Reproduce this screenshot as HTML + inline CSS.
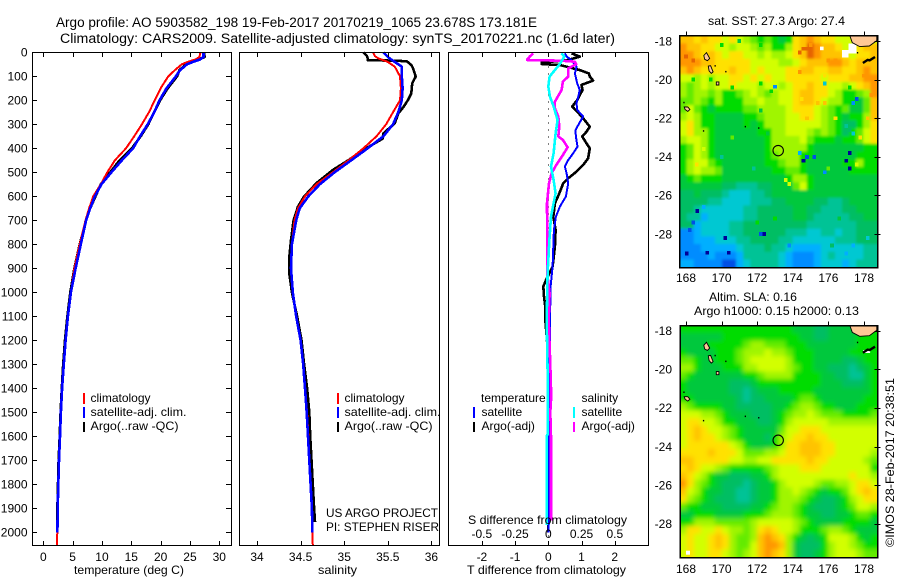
<!DOCTYPE html>
<html>
<head>
<meta charset="utf-8">
<title>Argo profile</title>
<style>
html,body{margin:0;padding:0;background:#fff;}
svg{display:block;}
text{font-family:"Liberation Sans",sans-serif;font-size:12px;fill:#000;}
.t{font-size:13.5px;}
</style>
</head>
<body>
<svg id="fig" xmlns="http://www.w3.org/2000/svg" width="900" height="580" viewBox="0 0 900 580">
<defs>
<clipPath id="clip1"><rect x="679.5" y="35.5" width="198" height="232"/></clipPath>
<clipPath id="clip2"><rect x="680" y="325.5" width="197.5" height="232"/></clipPath>
<filter id="smooth" x="-10%" y="-10%" width="120%" height="120%"><feGaussianBlur stdDeviation="2.4"/></filter>
<filter id="soft" x="-10%" y="-10%" width="120%" height="120%"><feGaussianBlur stdDeviation="1.4"/></filter>
</defs>
<text class="t" x="56" y="27" textLength="481" lengthAdjust="spacingAndGlyphs">Argo profile: AO 5903582_198 19-Feb-2017 20170219_1065 23.678S 173.181E</text>
<text class="t" x="60" y="43" textLength="555" lengthAdjust="spacingAndGlyphs">Climatology: CARS2009. Satellite-adjusted climatology: synTS_20170221.nc (1.6d later)</text>

<g id="p1"></g>
<g id="p2"></g>
<g id="p3"></g>

<text x="74" y="574" textLength="110" lengthAdjust="spacingAndGlyphs">temperature (deg C)</text>
<text x="318" y="574" textLength="39" lengthAdjust="spacingAndGlyphs">salinity</text>
<text x="467" y="574" textLength="159" lengthAdjust="spacingAndGlyphs">T difference from climatology</text>
<text x="468" y="524" textLength="159" lengthAdjust="spacingAndGlyphs">S difference from climatology</text>

<g>
<line x1="84" x2="84" y1="393" y2="404" stroke="#f00" stroke-width="2"/>
<line x1="84" x2="84" y1="407" y2="418" stroke="#00f" stroke-width="2"/>
<line x1="84" x2="84" y1="422" y2="432" stroke="#000" stroke-width="2"/>
<text x="90.5" y="402">climatology</text>
<text x="90.5" y="416" textLength="96" lengthAdjust="spacingAndGlyphs">satellite-adj. clim.</text>
<text x="90.5" y="430" textLength="88" lengthAdjust="spacingAndGlyphs">Argo(..raw -QC)</text>
</g>
<g>
<line x1="338" x2="338" y1="393" y2="404" stroke="#f00" stroke-width="2"/>
<line x1="338" x2="338" y1="407" y2="418" stroke="#00f" stroke-width="2"/>
<line x1="338" x2="338" y1="422" y2="432" stroke="#000" stroke-width="2"/>
<text x="344.5" y="402">climatology</text>
<text x="344.5" y="416" textLength="96" lengthAdjust="spacingAndGlyphs">satellite-adj. clim.</text>
<text x="344.5" y="430" textLength="88" lengthAdjust="spacingAndGlyphs">Argo(..raw -QC)</text>
</g>
<text x="326" y="517" textLength="112" lengthAdjust="spacingAndGlyphs">US ARGO PROJECT</text>
<text x="326" y="531" textLength="113" lengthAdjust="spacingAndGlyphs">PI: STEPHEN RISER</text>

<g>
<text x="481" y="402">temperature</text>
<text x="481.5" y="416">satellite</text>
<text x="481.5" y="430">Argo(-adj)</text>
<text x="581.5" y="402">salinity</text>
<text x="581.5" y="416">satellite</text>
<text x="581.5" y="430">Argo(-adj)</text>
<line x1="474" x2="474" y1="407" y2="418" stroke="#00f" stroke-width="2"/>
<line x1="474" x2="474" y1="422" y2="432" stroke="#000" stroke-width="2"/>
<line x1="574" x2="574" y1="407" y2="418" stroke="#0ff" stroke-width="2"/>
<line x1="574" x2="574" y1="422" y2="432" stroke="#f0f" stroke-width="2"/>
</g>

<text x="708" y="25" textLength="137" lengthAdjust="spacingAndGlyphs">sat. SST: 27.3 Argo: 27.4</text>
<text x="709" y="301" textLength="88" lengthAdjust="spacingAndGlyphs">Altim. SLA: 0.16</text>
<text x="694" y="315" textLength="165" lengthAdjust="spacingAndGlyphs">Argo h1000: 0.15 h2000: 0.13</text>
<g id="m1"></g>
<g id="m2"></g>
<text transform="translate(894,547) rotate(-90)" textLength="169" lengthAdjust="spacingAndGlyphs">©IMOS 28-Feb-2017 20:38:51</text>
</svg>

<script>
// ---- profile data ----
const depthTicks = [0,100,200,300,400,500,600,700,800,900,1000,1100,1200,1300,1400,1500,1600,1700,1800,1900,2000];
const tempTicks = [0,5,10,15,20,25,30];
const salTicks = [34,34.5,35,35.5,36];
const salTickLabels = ['34','34.5','35','35.5','36'];
const tDiffTicks = [-2,-1,0,1,2];
const sDiffTicks = [-0.5,-0.25,0,0.25,0.5];
const sDiffTickLabels = ['-0.5','-0.25','0','0.25','0.5'];

const tempDepths = [0,20,30,40,50,75,100,150,200,250,300,350,400,450,500,550,600,650,700,800,900,1000,1100,1200,1300,1400,1500,1600,1700,1800,1900,2000,2054];
const tempClim = [26.8,26.6,25.9,24.6,23.6,22.4,21.3,20,19,18,16.8,15.5,14.1,12.2,10.9,9.8,8.5,7.8,7.2,6.2,5.3,4.7,4.2,3.8,3.5,3.2,3.0,2.85,2.67,2.55,2.45,2.38,2.33];
const tempSat = [27.3,27.3,26.7,25.5,24.5,23.3,22.6,21,19.8,18.9,17.8,16.5,15.3,13.4,11.6,9.9,8.8,8,7.3,6.4,5.5,4.7,4.2,3.8,3.5,3.2,3,2.85,2.67,2.55,2.45,2.4];
const tempArgo = [27.4,27.5,26.4,25,24.3,23.2,22.8,21.2,19.9,18.9,17.9,16.6,15.1,13,11.4,9.8,8.9,8,7.3,6.2,5.3,4.6,4.1,3.7,3.4,3.15,2.95,2.8,2.6,2.5,2.4,2.4];

const salDepths = [0,15,25,40,60,100,150,200,250,300,350,400,450,500,550,600,650,700,800,900,1000,1100,1200,1300,1400,1500,1600,1700,1800,1900,2000,2054];
const salClim = [35.33,35.35,35.39,35.5,35.58,35.64,35.65,35.64,35.56,35.48,35.37,35.22,35.05,34.87,34.68,34.55,34.47,34.43,34.4,34.39,34.41,34.45,34.5,34.53,34.55,34.575,34.59,34.6,34.615,34.625,34.635,34.64];
const salSat = [35.45,35.49,35.52,35.58,35.66,35.66,35.67,35.66,35.62,35.56,35.45,35.27,35.08,34.89,34.72,34.59,34.49,34.45,34.4,34.39,34.41,34.45,34.5,34.53,34.55,34.57,34.585,34.6,34.615,34.63,34.635];
const salArgoDepths = [0,15,25,33,35,38,53,67,101,129,171,199,228,254,296,338,360,379,407,449,490,546,601,643,699,783,853,921,1000,1100,1200,1300,1400,1500,1600,1700,1800,1900,1957];
const salArgo = [35.22,35.26,35.27,35.27,35.6,35.72,35.77,35.79,35.82,35.78,35.77,35.73,35.68,35.62,35.58,35.45,35.44,35.35,35.22,35.05,34.87,34.68,34.54,34.47,34.42,34.39,34.37,34.37,34.4,34.46,34.51,34.54,34.575,34.6,34.61,34.625,34.64,34.655,34.665];

const dtSatDepths = [4,18,32,60,88,129,157,185,212,240,268,296,324,351,393,421,449,476,504,546,601,643,685,740,810,893,976,1115,1300,1500,1800,1950,2000];
const dtSat = [0.5,0.55,0.7,0.85,0.8,0.87,0.95,0.9,0.85,0.87,1.05,0.93,0.82,0.83,0.88,0.75,0.6,0.5,0.55,0.6,0.53,0.35,0.23,0.17,0.15,0.13,0.07,0.05,0.04,0.03,0.02,0.02,0];
const dtArgoDepths = [4,18,32,43,49,53,60,74,88,101,118,136,157,178,199,226,247,275,310,331,351,379,400,442,469,497,525,546,588,629,685,740,810,893,949,976,1018,1060,1115,1200,1300,2000];
const dtArgo = [0.7,0.95,0.6,-0.2,-0.2,0.35,0.55,0.95,1.22,1.25,1.35,1,1.03,0.95,0.87,0.72,0.87,1.05,1.25,1.15,1.02,1.15,1.25,1.2,1.05,0.85,0.6,0.45,0.33,0.2,0.15,0.22,0.2,0.13,-0.07,-0.15,-0.13,-0.09,-0.09,-0.04,0,0];
const dsArgoDepths = [4,18,29,32,35,39,49,67,101,122,157,206,233,268,310,351,365,396,428,469,504,546,629,782,921,1004,1115,1300,1400,1450,1500,1600,1950];
const dsArgo = [-0.113,-0.14,-0.158,-0.158,0.1,0.2,0.21,0.15,0.15,0.11,0.1,0.05,0.05,0.075,0.083,0.075,0.11,0.145,0.11,0.06,0.025,0.005,-0.01,-0.008,-0.008,0.01,0.003,0.015,0.02,0.02,0.015,0.02,0.02];
const dsSatDepths = [4,18,46,74,101,143,185,226,282,338,421,476,532,588,629,685,782,921,1115,1400,1590,1600,1970];
const dsSat = [0.1,0.12,0.09,0.05,0.01,0,0.013,0.04,0.07,0.055,0.04,0.02,0.04,0.055,0.04,0.02,0.008,-0.005,-0.012,-0.003,-0.003,-0.0125,-0.0125];

// ---- map data: one hex digit per cell (colour class), 28 columns x 30 rows, north to south ----
const mapLonTicks = [168,170,172,174,176,178];
const mapLatTicks = [18,20,22,24,26,28];
const colourClasses = ['#000096','#0050e6','#008cff','#00afff','#00c8d2','#00c396','#00be64','#00c83c','#00dc00','#64eb00','#a0f500','#d2ff00','#ffe100','#ffc300','#ff9600','#e66400'];
const sstRows = [
"ddcdccbcba989878cdedccbbbbbb",
"eddccbbabba9a88acdfeddcbbcdd",
"eedcdcbccbbabaabcdfedddcbccd",
"eeeddcccccbbbbaabcdddeedcddd",
"dedccccdccbcbbbccddccddccded",
"bbababbccbcbcbbcccccbcccddee",
"a9ababbcbbbabbabccdccbbabcde",
"a9aa9a889aba9abbcddccba889ae",
"99a98a888aabaabbcddcbaa8879d",
"9b987888899aaaabcccba989779d",
"aba887777889aaabbccba98788ad",
"bca887777878aaabbbbba98668ac",
"bcaa877777788aabbba9a98689bc",
"abba877777778aaaab98887889bc",
"89ba877777778aaaaa8777777788",
"89ba8777777789aaa88777777888",
"8abb98777777889aa87777788a88",
"8abaa977777778899877777788888",
"7898887777777778aa8777777777",
"77777766555667779b8777777777",
"6676665444556777777777777777",
"6666554444555667777665567777",
"6654444445566666776655566777",
"6553444445566666776555556677",
"6634444556666666665555555666",
"2234444556666665554455455666",
"2233344455666655444444555666",
"2223333345556554333344444455",
"2222322235555543222345444455",
"3322221134555543222344434555"
];
const slaRows = [
"8888888888888888777667777888",
"7777778888888888877667777888",
"7777888889aa9998887777777888",
"877778889aaabaa9888777778888",
"998778889abbbbba888777766788",
"aa8777888aabbbba988776665678",
"987777777889aaaa888877665578",
"8777777666788888888877766678",
"8777777665677788888777777778",
"8877777765667777899877777788",
"a9888877666667789aa988777888",
"bbbaa98777666789aaba99988889",
"bccbba887776678abbbbbaaaaaaa",
"bcdcbba98777779bbcccbbbbbbbb",
"bcdccba9877768abccdccbbbbbbb",
"bccccccba87778accdddccbbbbbb",
"ccccdcccb999aabccdddccbbbbba",
"ddcccccbbaabbcccccdccbbbbba9",
"cdcbba9888889abbbcccbbbbbbb8",
"dcba877666778abbbbbbbbbbcbba",
"eca98766656778abbbba99aabccb",
"dba87766556778aaba987889bcdc",
"ca987666556778aaa9876678abcc",
"98877766667789aa987666789bba",
"7788877778889aaa987766778998",
"88aaa99999abbbbba98777788887",
"accbbcbaa9acdcbba8889aa98777",
"bcbbcdca99adedca87678bbba878",
"bcbbcdca99bdeeda76668abba988",
"bcbbccba9abdedca76678abbba99"
];
const sstSpeckLons = [173,168.64,168.4,168.04,169.2,170.4,170.2,172.4,172.2,174.6,174.8,175.2,177.2,177,177.2,177.6,177.4,175.8,174.4,170,171.8,
174.6,174.8,174.4,176,176.4,175,168.4,168.2,168,174.4,175.8,178,
170,171,172.2,168.4,169.4,170.6,172.8,175.8,177.2,
169,168.6,170.6,174.8,175.4,175.8,176.4,174.5,178.2,177.8,178.4,173.6,173.8,175,176,177.6,
172.2,172.6,177,177.2,177.4,172.2,
169,168.2,172,173,176.6,176.2,177,178.2,177.4,173.8];
const sstSpeckLats = [20.37,26.8,27.4,29,28.97,28.97,28.2,28,28,24.2,24,24,23.8,24.2,24.6,21,21.2,24.8,23.8,24,24.6,
18.4,18.4,18.6,19,19,18.2,19,19,18.8,19.6,19.8,19.8,
18.2,18,18.2,20,20,20.4,20.6,20.2,20.4,
23.6,24.4,23,22,21.2,21.2,22,21,22,23,20.8,25.2,25.4,23.2,24.6,24.4,
21.6,22.8,22.4,22.6,22.8,20.2,
26.6,27.8,27.4,27.2,27.2,28.6,29,28.2,28.6,28.6];
const sstSpeckClass = [2,0,1,0,0,0,0,0,1,0,1,1,0,0,0,1,2,2,3,5,5,
15,15,15,14,14,14,15,14,15,14,12,14,
8,7,8,8,8,8,8,4,8,
11,12,9,13,13,13,12,12,13,12,14,11,11,9,9,11,
7,7,5,6,4,8,
3,1,8,8,7,6,3,4,3,2];
const landLons = [[177.2,177.34,177.76,178.3,178.72,178.72],[169,169.15,169.33,169.2,169.05],[169.25,169.38,169.52,169.42,169.3],[169.7,169.85,169.85,169.7],[167.9,168.1,168.22,168.1,167.95]];
const landLats = [[17.72,18.09,18.29,18.26,17.98,17.72],[18.75,18.6,18.9,19.02,18.95],[19.3,19.28,19.6,19.68,19.55],[20.12,20.12,20.28,20.28],[21.42,21.42,21.55,21.65,21.55]];
const reefLons = [177.94,178.2,178.32,178.62];
const reefLats = [19.14,18.98,19.0,18.83];
const dotLons = [170.2,169.6,171.3,172.05,168.95,177.6,167.85];
const dotLats = [19.55,19.25,22.4,22.47,22.62,18.57,21.15];
const argoLon = 173.181;
const argoLat = 23.678;
const sstMaskLons = [177.12,177.59,177.59,177.12,177.12,176.75,176.75,177.12];
const sstMaskLats = [18.12,18.12,18.64,18.64,18.85,18.85,18.47,18.47];

// ---- axis functions ----
const NS = 'http://www.w3.org/2000/svg';
const yDepth = d => 52.3 + 0.24 * d;
const xTemp = t => 43.3 + 5.867 * t;
const xSal = s => 257 + 87.2 * (s - 34);
const xDT = v => 548.3 + 33.2 * v;
const xDS = v => 548.3 + 133 * v;
const lonMin = 167.64, lonMax = 178.75, latMin = 17.72, latMax = 29.72;
const xLon = lon => 686 + 17.8 * (lon - 168);
const yLat1 = lat => 41 + 19.3 * (lat - 18);
const yLat2 = lat => 330.7 + 19.3 * (lat - 18);

function mk(tag, attrs, parent) {
  const el = document.createElementNS(NS, tag);
  for (const k in attrs) el.setAttribute(k, attrs[k]);
  parent.appendChild(el);
  return el;
}
function seriesLine(parent, name, depths, vals, xf, color, width) {
  const n = Math.min(depths.length, vals.length);
  const pts = [];
  for (let i = 0; i < n; i++) pts.push(xf(vals[i]).toFixed(1) + ',' + yDepth(depths[i]).toFixed(1));
  const el = mk('polyline', {points: pts.join(' '), fill: 'none', stroke: color, 'stroke-width': width, 'shape-rendering': 'crispEdges', 'stroke-linejoin': 'round'}, parent);
  
  
  return el;
}
function tick(parent, x1, y1, x2, y2) {
  const el = mk('line', {x1: x1, y1: y1, x2: x2, y2: y2, stroke: '#000', 'stroke-width': 1, 'shape-rendering': 'crispEdges'}, parent);
  
  
}
function label(parent, x, y, str, anchor) {
  const el = mk('text', {x: x, y: y, 'text-anchor': anchor}, parent);
  el.textContent = str;
  
  
}
function frame(parent, x, y, w, h, sw) {
  const el = mk('rect', {x: x, y: y, width: w, height: h, fill: 'none', stroke: '#000', 'stroke-width': sw, 'shape-rendering': 'crispEdges'}, parent);
  
  
}

// ---- panel 1: temperature ----
const p1 = document.getElementById('p1');
seriesLine(p1, 'argo-temperature-line', tempDepths, tempArgo, xTemp, '#000', 2.6);
seriesLine(p1, 'climatology-temperature-line', tempDepths, tempClim, xTemp, '#f00', 2);
seriesLine(p1, 'satellite-temperature-line', tempDepths, tempSat, xTemp, '#00f', 2.6);
frame(p1, 32.5, 52.5, 199, 493, 1);
depthTicks.forEach(d => {
  const y = Math.round(yDepth(d)) + 0.5;
  tick(p1, 32.5, y, 37, y);
  tick(p1, 231.5, y, 226, y);
  label(p1, 27.5, yDepth(d) + 4.3, String(d), 'end');
});
tempTicks.forEach(t => {
  const x = Math.round(xTemp(t)) + 0.5;
  tick(p1, x, 52.5, x, 57);
  tick(p1, x, 545.5, x, 541);
  label(p1, xTemp(t), 561, String(t), 'middle');
});

// ---- panel 2: salinity ----
const p2 = document.getElementById('p2');
seriesLine(p2, 'argo-salinity-line', salArgoDepths, salArgo, xSal, '#000', 2.6);
seriesLine(p2, 'climatology-salinity-line', salDepths, salClim, xSal, '#f00', 2);
seriesLine(p2, 'satellite-salinity-line', salDepths, salSat, xSal, '#00f', 2.6);
frame(p2, 239.5, 52.5, 200, 493, 1);
salTicks.forEach((s, i) => {
  const x = Math.round(xSal(s)) + 0.5;
  tick(p2, x, 52.5, x, 57);
  tick(p2, x, 545.5, x, 541);
  label(p2, xSal(s), 561, salTickLabels[i], 'middle');
});

// ---- panel 3: differences ----
const p3 = document.getElementById('p3');
const zero = mk('line', {x1: 548.5, x2: 548.5, y1: 52.5, y2: 545, stroke: '#000', 'stroke-width': 1, 'stroke-dasharray': '1 6', 'shape-rendering': 'crispEdges'}, p3);


seriesLine(p3, 'argo-temperature-difference-line', dtArgoDepths, dtArgo, xDT, '#000', 2.6);
seriesLine(p3, 'satellite-temperature-difference-line', dtSatDepths, dtSat, xDT, '#00f', 2);
seriesLine(p3, 'argo-salinity-difference-line', dsArgoDepths, dsArgo, xDS, '#f0f', 2.6);
seriesLine(p3, 'satellite-salinity-difference-line', dsSatDepths, dsSat, xDS, '#0ff', 2.6);
frame(p3, 448.5, 52.5, 200, 493, 1);
tDiffTicks.forEach(v => {
  const x = Math.round(xDT(v)) + 0.5;
  tick(p3, x, 52.5, x, 57);
  tick(p3, x, 545.5, x, 541);
  label(p3, xDT(v), 561, String(v), 'middle');
});
sDiffTicks.forEach((v, i) => {
  label(p3, xDS(v), 538, sDiffTickLabels[i], 'middle');
});

// ---- maps ----
function drawMap(root, rows, yLat, clipId, filterId, mapName) {
  const clipGroup = mk('g', {'clip-path': 'url(#' + clipId + ')'}, root);
  
  
  const cells = mk('g', {filter: 'url(#' + filterId + ')'}, clipGroup);
  
  
  const nr = rows.length;
  rows.forEach((row, r) => {
    const nc = 28;
    for (let c = 0; c < nc; c++) {
      const cls = parseInt(row[c], 16);
      const lon0 = lonMin + (lonMax - lonMin) * c / nc;
      const lon1 = lonMin + (lonMax - lonMin) * (c + 1) / nc;
      const lat0 = latMin + (latMax - latMin) * r / nr;
      const lat1 = latMin + (latMax - latMin) * (r + 1) / nr;
      let x0 = xLon(lon0), x1 = xLon(lon1), y0 = yLat(lat0), y1 = yLat(lat1);
      if (c === 0) x0 -= 12;
      if (c === nc - 1) x1 += 12;
      if (r === 0) y0 -= 12;
      if (r === nr - 1) y1 += 12;
      const cell = mk('rect', {x: x0.toFixed(2), y: y0.toFixed(2), width: (x1 - x0 + 0.4).toFixed(2), height: (y1 - y0 + 0.4).toFixed(2), fill: colourClasses[cls]}, cells);
      
      
    }
  });
  return clipGroup;
}
function drawLand(group, yLat) {
  landLons.forEach((lons, i) => {
    const pts = lons.map((lon, j) => xLon(lon).toFixed(1) + ',' + yLat(landLats[i][j]).toFixed(1)).join(' ');
    const el = mk('polygon', {points: pts, fill: '#ffc896', stroke: '#000', 'stroke-width': 0.9}, group);
    
    
  });
  const reefPts = reefLons.map((lon, j) => xLon(lon).toFixed(1) + ',' + yLat(reefLats[j]).toFixed(1)).join(' ');
  const reef = mk('polyline', {points: reefPts, fill: 'none', stroke: '#000', 'stroke-width': 2.4}, group);
  
  
  dotLons.forEach((lon, j) => {
    const dot = mk('rect', {x: xLon(lon).toFixed(1), y: yLat(dotLats[j]).toFixed(1), width: 1.3, height: 1.5, fill: '#000'}, group);
    
    
  });
}
function drawMarker(group, yLat) {
  const c = mk('circle', {cx: xLon(argoLon).toFixed(1), cy: yLat(argoLat).toFixed(1), r: 5.2, fill: 'none', stroke: '#000', 'stroke-width': 1.1}, group);
  
  
}
function drawAxes(root, yLat, fx, fy, fw, fh, lonLabelY) {
  frame(root, fx, fy, fw, fh, 1.5);
  mapLonTicks.forEach(lon => {
    const x = Math.round(xLon(lon)) + 0.5;
    tick(root, x, fy, x, fy - 4);
    label(root, xLon(lon), lonLabelY, String(lon), 'middle');
  });
  mapLatTicks.forEach(lat => {
    const y = Math.round(yLat(lat)) + 0.5;
    tick(root, fx + fw, y, fx + fw + 3, y);
    tick(root, fx + fw, y, fx + fw - 3, y);
    label(root, 672, yLat(lat) + 4.3, '-' + lat, 'end');
  });
}

// SST map
const m1 = document.getElementById('m1');
const g1 = drawMap(m1, sstRows, yLat1, 'clip1', 'soft', 'sst-map');
sstSpeckLons.forEach((lon, i) => {
  const sp = mk('rect', {x: (xLon(lon) - 1.8).toFixed(1), y: (yLat1(sstSpeckLats[i]) - 1.9).toFixed(1), width: 3.6, height: 3.9, fill: colourClasses[sstSpeckClass[i]], 'shape-rendering': 'crispEdges'}, g1);
  
  
});
const mask = mk('polygon', {points: sstMaskLons.map((lon, j) => xLon(lon).toFixed(1) + ',' + yLat1(sstMaskLats[j]).toFixed(1)).join(' '), fill: '#fff', 'shape-rendering': 'crispEdges'}, g1);


const gap = mk('rect', {x: xLon(175.53).toFixed(1), y: yLat1(18.29).toFixed(1), width: 3.6, height: 3.6, fill: '#fff'}, g1);


drawLand(g1, yLat1);
drawMarker(g1, yLat1);
drawAxes(m1, yLat1, 679.5, 35.5, 198, 232, 282);

// SLA map
const m2 = document.getElementById('m2');
const g2 = drawMap(m2, slaRows, yLat2, 'clip2', 'smooth', 'sla-map');
const hole = mk('rect', {x: xLon(168).toFixed(1), y: yLat2(29.4).toFixed(1), width: 4, height: 4, fill: '#fff'}, g2);


const holeReefTop = mk('rect', {x: xLon(177.95).toFixed(1), y: yLat2(19.0).toFixed(1), width: 7, height: 3, fill: '#fff'}, g2);


drawLand(g2, yLat2);
drawMarker(g2, yLat2);
drawAxes(m2, yLat2, 680, 325.5, 197.5, 232, 573);
</script>
</body>
</html>
